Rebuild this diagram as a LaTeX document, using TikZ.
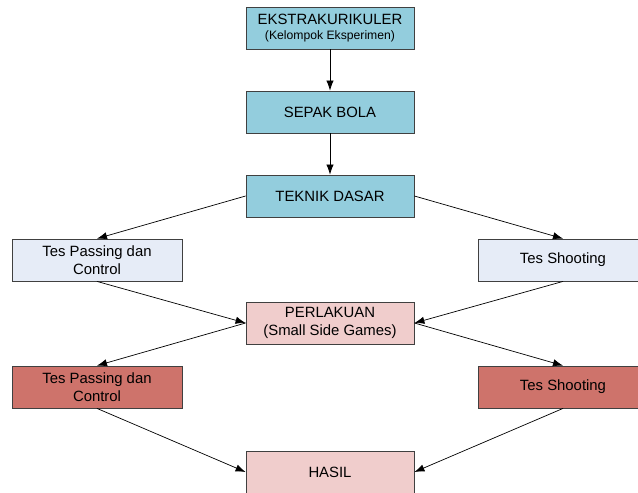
\documentclass[tikz,border=0pt]{standalone}
\usepackage{fontspec}
\setmainfont{Liberation Sans}
\usepackage{xcolor}
\usepackage{tikz}
\usetikzlibrary{shapes,arrows,arrows.meta,positioning,calc}
\definecolor{colorTopfill}{HTML}{93CDDD}
\definecolor{colorTestfill}{HTML}{E6ECF7}
\definecolor{colorTreatfill}{HTML}{F0CDCC}
\definecolor{colorPostfill}{HTML}{CE736B}
\definecolor{colorStroke}{HTML}{404040}

\begin{document}
\begin{tikzpicture}[
    x=0.03cm, y=-0.03cm,
    box/.style={rectangle, draw=colorStroke, line width=0.7pt, align=center, minimum height=1.26cm, font=\fontsize{12.7}{15.4}\selectfont, inner sep=2pt},
    main/.style={box, fill=colorTopfill, minimum width=5.04cm},
    pretest/.style={box, fill=colorTestfill, minimum width=5.1cm},
    treat/.style={box, fill=colorTreatfill, minimum width=5.04cm},
    posttest/.style={box, fill=colorPostfill, minimum width=5.1cm},
    arrow/.style={-{Latex[length=3mm,width=2.2mm]}, line width=0.6pt}
]
    \clip (0,0) rectangle (638,492);
    \fill[white] (0,0) rectangle (638,492);

    % Nodes
    \node[main] (ekstra) at (330,28) {EKSTRAKURIKULER\\[-2pt]{\fontsize{10.4}{12}\selectfont(Kelompok Eksperimen)}};
    \node[main] (sepak) at (330,112) {SEPAK BOLA};
    \node[main] (teknik) at (330,196) {TEKNIK DASAR};

    \node[pretest] (prepass) at (97,260) {Tes Passing dan\\Control};
    \node[pretest] (preshoot) at (563,260) {Tes Shooting};

    \node[treat] (perlakuan) at (330,323) {PERLAKUAN\\(Small Side Games)};

    \node[posttest] (postpass) at (97,387) {Tes Passing dan\\Control};
    \node[posttest] (postshoot) at (563,387) {Tes Shooting};

    \node[treat] (hasil) at (330,472) {HASIL};

    % Edges
    \draw[arrow] (ekstra) -- (sepak);
    \draw[arrow] (sepak) -- (teknik);
    \draw[arrow] (teknik.west) -- (prepass.north);
    \draw[arrow] (teknik.east) -- (preshoot.north);
    \draw[arrow] (prepass.south) -- (perlakuan.west);
    \draw[arrow] (preshoot.south) -- (perlakuan.east);
    \draw[arrow] (perlakuan.west) -- (postpass.north);
    \draw[arrow] (perlakuan.east) -- (postshoot.north);
    \draw[arrow] (postpass.south) -- (hasil.west);
    \draw[arrow] (postshoot.south) -- (hasil.east);

\end{tikzpicture}
\end{document}
